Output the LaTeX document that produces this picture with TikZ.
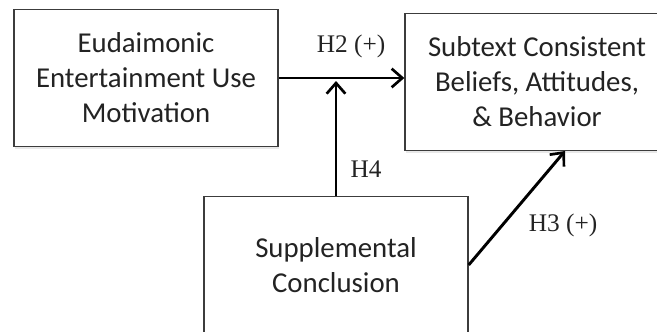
\documentclass[tikz,border=0pt]{standalone}
\usepackage{fontspec}
\setmainfont{Liberation Serif}
\newfontfamily\boxfont{Carlito}
\usepackage{tikz}
\usetikzlibrary{arrows.meta,positioning,calc,shadows}
\definecolor{boxLine}{RGB}{60,60,60}
\definecolor{boxText}{RGB}{35,35,35}

\begin{document}
\begin{tikzpicture}[x=0.75pt,y=-0.75pt,
  var/.style={rectangle,draw=boxLine,fill=white,line width=1pt,text=boxText,
              drop shadow={opacity=0.18,shadow xshift=0.6pt,shadow yshift=-1.5pt},
              minimum width=198pt,minimum height=103pt,inner sep=0pt,align=center,
              font=\boxfont\fontsize{21.6}{26.2}\selectfont},
  hyp/.style={font=\fontsize{19}{22}\selectfont,inner sep=0pt,text=boxText},
  arr/.style={-{Straight Barb[length=8pt,width=14pt,line width=2pt]},line width=2.2pt}
]
  \useasboundingbox (0,0) rectangle (657,332);
  \clip (0,0) rectangle (657,332);

  \node[var](eudai)  at (146,78)  {Eudaimonic\\Entertainment Use\\Motivation};
  \node[var](subtxt) at (537,82)  {Subtext Consistent\\Beliefs, Attitudes,\\\& Behavior};
  \node[var](suppl)  at (336,265) {Supplemental\\Conclusion};
  \coordinate(h3end) at (565,151);

  \draw[arr](eudai.east)--(subtxt.west |- eudai.east);
  \draw[arr](suppl.north)--($(suppl.north |- eudai.east)+(0,3)$);
  \draw[arr](suppl.east)--(h3end);

  \node[hyp](h2) at (351,46)  {H2 (+)};
  \node[hyp](h4) at (366,169) {H4};
  \node[hyp](h3) at (563,225) {H3 (+)};
\end{tikzpicture}
\end{document}
